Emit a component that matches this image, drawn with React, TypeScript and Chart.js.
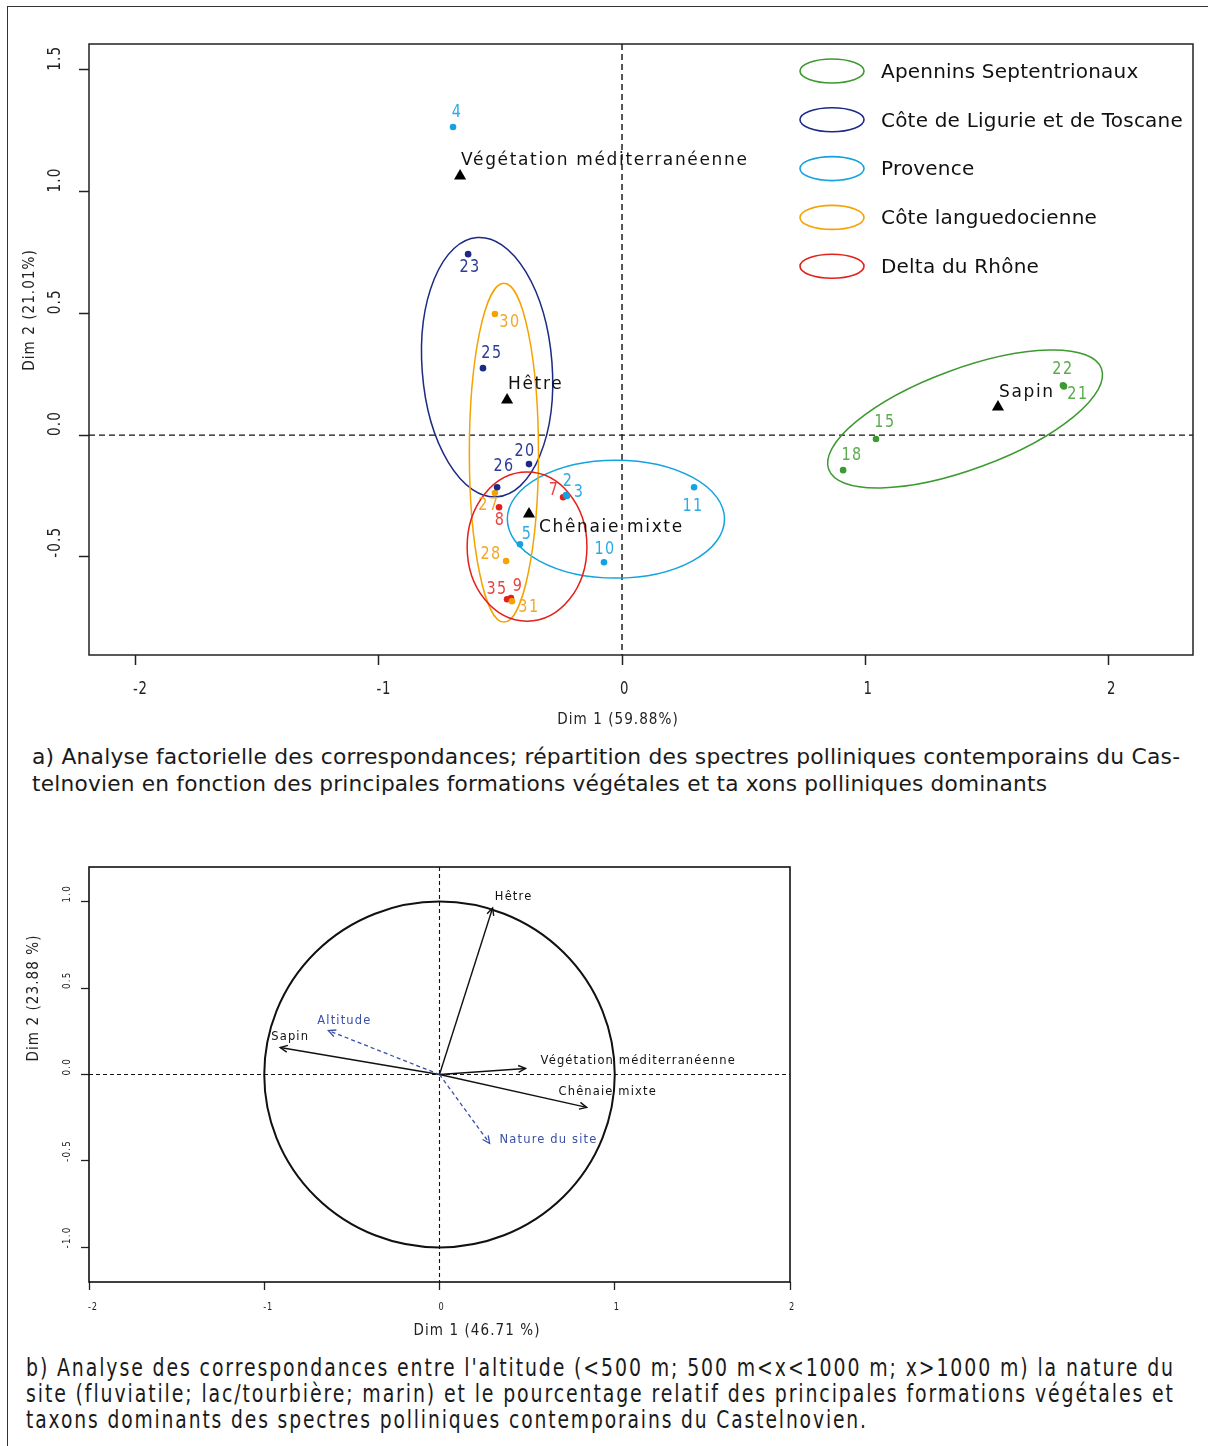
import React, { useEffect, useLayoutEffect, useRef } from 'react';
import { Chart, registerables } from 'chart.js';

Chart.register(...registerables);

// ================= Figure a : sites on Dim 1 / Dim 2 =================
const regionNames = [
  'Apennins Septentrionaux',
  'Côte de Ligurie et de Toscane',
  'Provence',
  'Côte languedocienne',
  'Delta du Rhône',
];

const apenninsSites = ['15', '18', '22', '21'];
const apenninsDim1 = [1.043, 0.908, 1.811, 1.815];
const apenninsDim2 = [-0.016, -0.144, 0.205, 0.2];

const ligurieSites = ['23', '25', '20', '26'];
const ligurieDim1 = [-0.632, -0.571, -0.382, -0.513];
const ligurieDim2 = [0.743, 0.275, -0.119, -0.214];

const provenceSites = ['4', '2', '3', '5', '10', '11'];
const provenceDim1 = [-0.694, -0.23, -0.226, -0.419, -0.074, 0.296];
const provenceDim2 = [1.265, -0.246, -0.25, -0.448, -0.522, -0.214];

const languedocSites = ['30', '27', '28', '31'];
const languedocDim1 = [-0.522, -0.522, -0.476, -0.452];
const languedocDim2 = [0.497, -0.238, -0.517, -0.682];

const rhoneSites = ['8', '7', '35', '9'];
const rhoneDim1 = [-0.505, -0.242, -0.472, -0.456];
const rhoneDim2 = [-0.296, -0.255, -0.674, -0.669];

const taxaNamesA = ['Végétation méditerranéenne', 'Hêtre', 'Chênaie mixte', 'Sapin'];
const taxaDim1A = [-0.665, -0.472, -0.382, 1.544];
const taxaDim2A = [1.064, 0.144, -0.324, 0.115];

// confidence ellipses: centre, semi-axes, rotation (degrees)
const ellipseCx = [1.409, -0.554, -0.025, -0.485, -0.39];
const ellipseCy = [0.066, 0.279, -0.345, -0.072, -0.458];
const ellipseRx = [0.597, 0.267, 0.446, 0.142, 0.246];
const ellipseRy = [0.206, 0.534, 0.242, 0.696, 0.306];
const ellipseAngle = [20.3, 4.4, 0, 0, 0];

const xTicksA = [-2, -1, 0, 1, 2];
const yTicksA = [-0.5, 0, 0.5, 1, 1.5];
const xTitleA = 'Dim 1 (59.88%)';
const yTitleA = 'Dim 2 (21.01%)';

// ================= Figure b : correlation circle =================
const varNames = ['Hêtre', 'Sapin', 'Végétation méditerranéenne', 'Chênaie mixte'];
const varDim1 = [0.303, -0.909, 0.491, 0.84];
const varDim2 = [0.963, 0.156, 0.035, -0.19];
const supNames = ['Altitude', 'Nature du site'];
const supDim1 = [-0.634, 0.286];
const supDim2 = [0.254, -0.398];

const xTicksB = [-2, -1, 0, 1, 2];
const yTicksB = [-1, -0.5, 0, 0.5, 1];
const xTitleB = 'Dim 1 (46.71 %)';
const yTitleB = 'Dim 2 (23.88 %)';

const captionA = [
  'a) Analyse factorielle des correspondances; répartition des spectres polliniques contemporains du Cas-',
  'telnovien en fonction des principales formations végétales et ta xons polliniques dominants',
];
const captionB = [
  "b) Analyse des correspondances entre l'altitude (<500 m; 500 m<x<1000 m; x>1000 m) la nature du",
  'site (fluviatile; lac/tourbière; marin) et le pourcentage relatif des principales formations végétales et',
  'taxons dominants des spectres polliniques contemporains du Castelnovien.',
];

// ---------------- styles (layout only) ----------------
const regionColors = ['#3c9a30', '#1c2a85', '#14a3e0', '#f5a300', '#e3211c'];
const regionLabelColors = ['#5aac4c', '#2d3b95', '#2eaae3', '#f4a726', '#e8443d'];
const SANS = '"DejaVu Sans", "Open Sans", sans-serif';
const BLUE = '#3a50a6';

// label offsets (pixels) relative to points
const siteLabelOffset: Record<string, [number, number]> = {
  '4': [4, -15], '23': [2, 13], '30': [15, 8], '25': [9, -15], '20': [-4, -13], '26': [7, -21],
  '27': [-6, 12], '8': [1, 13], '7': [-9, -7], '2': [2, -14], '3': [12, -4], '5': [7, -10],
  '28': [-15, -7], '10': [1, -13], '11': [-1, 19], '35': [-10, -10], '9': [7, -12], '31': [17, 6],
  '15': [9, -17], '18': [9, -15], '22': [0, -16], '21': [14, 8],
};
const taxaLabelOffsetA: [number, number][] = [[1, -15], [1, -15], [10, 14], [1, -15]];
const varLabelOffset: [number, number, CanvasTextAlign][] = [[21, -11, 'center'], [10, -11, 'center'], [15, -7, 'left'], [21, -15, 'center']];
const supLabelOffset: [number, number, CanvasTextAlign][] = [[16, -10, 'center'], [10, -3, 'left']];

type TextOpts = { font: string; color: string; align?: CanvasTextAlign; baseline?: CanvasTextBaseline; spacing?: number; rotate?: number; sx?: number };
function drawText(ctx: CanvasRenderingContext2D, text: string, x: number, y: number, o: TextOpts) {
  ctx.save();
  ctx.font = o.font;
  ctx.fillStyle = o.color;
  ctx.textAlign = o.align ?? 'left';
  ctx.textBaseline = o.baseline ?? 'middle';
  (ctx as any).letterSpacing = `${o.spacing ?? 0}px`;
  ctx.translate(x, y);
  if (o.rotate) ctx.rotate(o.rotate);
  if (o.sx) ctx.scale(o.sx, 1);
  ctx.fillText(text, 0, 0);
  ctx.restore();
}

const siteGroups = [
  { sites: apenninsSites, x: apenninsDim1, y: apenninsDim2 },
  { sites: ligurieSites, x: ligurieDim1, y: ligurieDim2 },
  { sites: provenceSites, x: provenceDim1, y: provenceDim2 },
  { sites: languedocSites, x: languedocDim1, y: languedocDim2 },
  { sites: rhoneSites, x: rhoneDim1, y: rhoneDim2 },
];

const plotAPlugin = {
  id: 'plotA',
  beforeDatasetsDraw(chart: any) {
    const { ctx, chartArea: { left, right, top, bottom }, scales: { x, y } } = chart;
    ctx.save();
    ctx.strokeStyle = '#111';
    ctx.lineWidth = 1.4;
    ctx.setLineDash([6, 4]);
    const x0 = x.getPixelForValue(0);
    const y0 = y.getPixelForValue(0);
    ctx.beginPath();
    ctx.moveTo(x0, top); ctx.lineTo(x0, bottom);
    ctx.moveTo(left, y0); ctx.lineTo(right, y0);
    ctx.stroke();
    ctx.setLineDash([]);
    ellipseCx.forEach((cx, i) => {
      const px = x.getPixelForValue(cx);
      const py = y.getPixelForValue(ellipseCy[i]);
      const rx = Math.abs(x.getPixelForValue(cx + ellipseRx[i]) - px);
      const ry = Math.abs(y.getPixelForValue(ellipseCy[i] + ellipseRy[i]) - py);
      ctx.beginPath();
      ctx.strokeStyle = regionColors[i];
      ctx.lineWidth = 1.5;
      ctx.ellipse(px, py, rx, ry, (-ellipseAngle[i] * Math.PI) / 180, 0, Math.PI * 2);
      ctx.stroke();
    });
    ctx.restore();
  },
  afterDraw(chart: any) {
    const { ctx, chartArea: { left, right, top, bottom }, scales: { x, y } } = chart;
    ctx.save();
    ctx.strokeStyle = '#222';
    ctx.lineWidth = 1.5;
    ctx.strokeRect(left, top, right - left, bottom - top);
    ctx.restore();
    xTicksA.forEach((v) => {
      drawText(ctx, String(v), x.getPixelForValue(v) - 2, 690, { font: `17px ${SANS}`, color: '#222', spacing: 1, sx: 0.78 });
    });
    yTicksA.forEach((v) => {
      drawText(ctx, v.toFixed(1), 56, y.getPixelForValue(v) + 1, { font: `17px ${SANS}`, color: '#222', spacing: 1.5, rotate: -Math.PI / 2, sx: 0.8 });
    });
    drawText(ctx, xTitleA, 618, 720, { font: `16px ${SANS}`, color: '#222', align: 'center', spacing: 1.2, sx: 0.85 });
    drawText(ctx, yTitleA, 30, 310, { font: `16px ${SANS}`, color: '#222', align: 'center', spacing: 1.2, rotate: -Math.PI / 2, sx: 0.85 });
    // legend
    regionNames.forEach((name, i) => {
      const cy = 71 + i * 48.8;
      ctx.save();
      ctx.strokeStyle = regionColors[i];
      ctx.lineWidth = 1.6;
      ctx.beginPath();
      ctx.ellipse(832, cy, 32, 12, 0, 0, Math.PI * 2);
      ctx.stroke();
      ctx.restore();
      drawText(ctx, name, 881, cy + 1.5, { font: `20px ${SANS}`, color: '#111', spacing: 0.2 });
    });
    // site labels
    siteGroups.forEach((g, gi) => {
      const meta = chart.getDatasetMeta(gi);
      g.sites.forEach((s, j) => {
        const el = meta.data[j];
        const off = siteLabelOffset[s] ?? [0, -14];
        drawText(ctx, s, el.x + off[0], el.y + off[1], { font: `18px ${SANS}`, color: regionLabelColors[gi], align: 'center', spacing: 1.8, sx: 0.8 });
      });
    });
    // taxa labels
    const tMeta = chart.getDatasetMeta(5);
    taxaNamesA.forEach((name, i) => {
      const el = tMeta.data[i];
      const off = taxaLabelOffsetA[i];
      drawText(ctx, name, el.x + off[0], el.y + off[1], { font: `17px ${SANS}`, color: '#111', spacing: 1.65 });
    });
  },
};

function arrowHead(ctx: CanvasRenderingContext2D, x0: number, y0: number, x1: number, y1: number, len: number) {
  const a = Math.atan2(y1 - y0, x1 - x0);
  const s = Math.PI / 7;
  ctx.beginPath();
  ctx.moveTo(x1 - len * Math.cos(a - s), y1 - len * Math.sin(a - s));
  ctx.lineTo(x1, y1);
  ctx.lineTo(x1 - len * Math.cos(a + s), y1 - len * Math.sin(a + s));
  ctx.stroke();
}

const OFFB = 830;
const plotBPlugin = {
  id: 'plotB',
  beforeDatasetsDraw(chart: any) {
    const { ctx, chartArea: { left, right, top, bottom }, scales: { x, y } } = chart;
    const x0 = x.getPixelForValue(0);
    const y0 = y.getPixelForValue(0);
    ctx.save();
    ctx.strokeStyle = '#111';
    ctx.lineWidth = 1.1;
    ctx.setLineDash([4, 3]);
    ctx.beginPath();
    ctx.moveTo(x0, top); ctx.lineTo(x0, bottom);
    ctx.moveTo(left, y0); ctx.lineTo(right, y0);
    ctx.stroke();
    ctx.setLineDash([]);
    ctx.lineWidth = 2;
    ctx.beginPath();
    ctx.ellipse(x0, y0, Math.abs(x.getPixelForValue(1) - x0), Math.abs(y.getPixelForValue(1) - y0), 0, 0, Math.PI * 2);
    ctx.stroke();
    ctx.restore();
  },
  afterDraw(chart: any) {
    const { ctx, chartArea: { left, right, top, bottom }, scales: { x, y } } = chart;
    const x0 = x.getPixelForValue(0);
    const y0 = y.getPixelForValue(0);
    const vMeta = chart.getDatasetMeta(0);
    const sMeta = chart.getDatasetMeta(1);
    ctx.save();
    ctx.strokeStyle = '#111';
    ctx.lineWidth = 1.4;
    varNames.forEach((_, i) => {
      const el = vMeta.data[i];
      ctx.beginPath(); ctx.moveTo(x0, y0); ctx.lineTo(el.x, el.y); ctx.stroke();
      arrowHead(ctx, x0, y0, el.x, el.y, 8);
    });
    ctx.strokeStyle = BLUE;
    ctx.lineWidth = 1.3;
    supNames.forEach((_, i) => {
      const el = sMeta.data[i];
      ctx.setLineDash([4, 3]);
      ctx.beginPath(); ctx.moveTo(x0, y0); ctx.lineTo(el.x, el.y); ctx.stroke();
      ctx.setLineDash([]);
      arrowHead(ctx, x0, y0, el.x, el.y, 8);
    });
    ctx.strokeStyle = '#111';
    ctx.lineWidth = 1.6;
    ctx.strokeRect(left, top, right - left, bottom - top);
    ctx.restore();
    varNames.forEach((name, i) => {
      const el = vMeta.data[i];
      const o = varLabelOffset[i];
      drawText(ctx, name, el.x + o[0], el.y + o[1], { font: `11.5px ${SANS}`, color: '#111', align: o[2], spacing: 1.15 });
    });
    supNames.forEach((name, i) => {
      const el = sMeta.data[i];
      const o = supLabelOffset[i];
      drawText(ctx, name, el.x + o[0], el.y + o[1], { font: `11.5px ${SANS}`, color: BLUE, align: o[2], spacing: 1.15 });
    });
    xTicksB.forEach((v) => {
      drawText(ctx, String(v), x.getPixelForValue(v) - 1, 1307 - OFFB, { font: `11px ${SANS}`, color: '#222', spacing: 1, sx: 0.75 });
    });
    yTicksB.forEach((v) => {
      drawText(ctx, v.toFixed(1), 67, y.getPixelForValue(v) + 1, { font: `11px ${SANS}`, color: '#222', spacing: 1.5, rotate: -Math.PI / 2, sx: 0.8 });
    });
    drawText(ctx, xTitleB, 477, 1331 - OFFB, { font: `15px ${SANS}`, color: '#222', align: 'center', spacing: 1.2, sx: 0.9 });
    drawText(ctx, yTitleB, 34, 998 - OFFB, { font: `15px ${SANS}`, color: '#222', align: 'center', spacing: 1.2, rotate: -Math.PI / 2, sx: 0.9 });
  },
};

function fixedAxis(size: number, horizontal: boolean) {
  return (scale: any) => {
    if (horizontal) scale.height = size;
    else scale.width = size;
  };
}

function ChartA() {
  const ref = useRef<HTMLCanvasElement>(null);
  useEffect(() => {
    if (!ref.current) return;
    const datasets: any[] = siteGroups.map((g, i) => ({
      label: regionNames[i],
      data: g.x.map((v, j) => ({ x: v, y: g.y[j] })),
      backgroundColor: regionColors[i],
      borderWidth: 0,
      pointRadius: 3.3,
    }));
    datasets.push({
      label: 'taxa',
      data: taxaDim1A.map((v, j) => ({ x: v, y: taxaDim2A[j] })),
      backgroundColor: '#000',
      borderWidth: 0,
      pointStyle: 'triangle',
      pointRadius: 7,
    });
    const chart = new Chart(ref.current, {
      type: 'scatter',
      data: { datasets },
      options: {
        responsive: false,
        animation: false,
        events: [],
        layout: { padding: { top: 44, left: 0, right: 15, bottom: 0 } },
        plugins: { legend: { display: false }, tooltip: { enabled: false } },
        scales: {
          x: {
            type: 'linear', min: -2.189, max: 2.345,
            afterBuildTicks: (s: any) => { s.ticks = xTicksA.map((v) => ({ value: v })); },
            afterFit: fixedAxis(85, true),
            ticks: { display: false },
            border: { display: false },
            grid: { drawOnChartArea: false, drawTicks: true, tickLength: 10, tickColor: '#222', tickWidth: 1.5 },
          },
          y: {
            type: 'linear', min: -0.903, max: 1.606,
            afterBuildTicks: (s: any) => { s.ticks = yTicksA.map((v) => ({ value: v })); },
            afterFit: fixedAxis(89, false),
            ticks: { display: false },
            border: { display: false },
            grid: { drawOnChartArea: false, drawTicks: true, tickLength: 10, tickColor: '#222', tickWidth: 1.5 },
          },
        },
      },
      plugins: [plotAPlugin],
    });
    return () => chart.destroy();
  }, []);
  return <canvas ref={ref} width={1208} height={740} style={{ position: 'absolute', left: 0, top: 0, width: 1208, height: 740 }} />;
}

function ChartB() {
  const ref = useRef<HTMLCanvasElement>(null);
  useEffect(() => {
    if (!ref.current) return;
    const chart = new Chart(ref.current, {
      type: 'scatter',
      data: {
        datasets: [
          { label: 'variables', data: varDim1.map((v, j) => ({ x: v, y: varDim2[j] })), pointRadius: 0 },
          { label: 'supplementaires', data: supDim1.map((v, j) => ({ x: v, y: supDim2[j] })), pointRadius: 0 },
        ],
      },
      options: {
        responsive: false,
        animation: false,
        events: [],
        layout: { padding: { top: 37, left: 0, right: 418, bottom: 0 } },
        plugins: { legend: { display: false }, tooltip: { enabled: false } },
        scales: {
          x: {
            type: 'linear', min: -2, max: 2,
            afterBuildTicks: (s: any) => { s.ticks = xTicksB.map((v) => ({ value: v })); },
            afterFit: fixedAxis(68, true),
            ticks: { display: false },
            border: { display: false },
            grid: { drawOnChartArea: false, drawTicks: true, tickLength: 8, tickColor: '#222', tickWidth: 1.3 },
          },
          y: {
            type: 'linear', min: -1.2, max: 1.2,
            afterBuildTicks: (s: any) => { s.ticks = yTicksB.map((v) => ({ value: v })); },
            afterFit: fixedAxis(89, false),
            ticks: { display: false },
            border: { display: false },
            grid: { drawOnChartArea: false, drawTicks: true, tickLength: 8, tickColor: '#222', tickWidth: 1.3 },
          },
        },
      },
      plugins: [plotBPlugin],
    });
    return () => chart.destroy();
  }, []);
  return <canvas ref={ref} width={1208} height={520} style={{ position: 'absolute', left: 0, top: OFFB, width: 1208, height: 520 }} />;
}

// caption line stretched/condensed horizontally to the measured width of the reference line
function CaptionLine(props: { text: string; left: number; top: number; target: number; font: string; spacing: number; lineHeight: number }) {
  const ref = useRef<HTMLSpanElement>(null);
  useLayoutEffect(() => {
    const el = ref.current;
    if (!el) return;
    el.style.transform = 'none';
    const w = el.getBoundingClientRect().width - props.spacing;
    if (w > 0) el.style.transform = `scaleX(${props.target / w})`;
  }, [props.text, props.target]);
  return (
    <span
      ref={ref}
      style={{
        position: 'absolute', left: props.left, top: props.top, whiteSpace: 'nowrap', font: props.font,
        letterSpacing: `${props.spacing}px`, lineHeight: `${props.lineHeight}px`, color: '#1a1a1a',
        transformOrigin: '0 0', display: 'inline-block',
      }}
    >
      {props.text}
    </span>
  );
}

const captionATargets = [1148, 1015];
const captionBTargets = [1147, 1147, 840];

export default function App() {
  return (
    <div style={{ position: 'absolute', left: 0, top: 0, width: 1208, height: 1446, background: '#fff', overflow: 'hidden', fontFamily: SANS }}>
      <div style={{ position: 'absolute', left: 7, top: 6, width: 1210, height: 1450, borderTop: '1px solid #333', borderLeft: '1px solid #333' }} />
      <ChartA />
      <ChartB />
      {captionA.map((t, i) => (
        <CaptionLine key={'a' + i} text={t} left={32} top={744 + i * 27} target={captionATargets[i]} font={`21px ${SANS}`} spacing={0.2} lineHeight={27} />
      ))}
      {captionB.map((t, i) => (
        <CaptionLine key={'b' + i} text={t} left={26} top={1355 + i * 26} target={captionBTargets[i]} font={`24px ${SANS}`} spacing={2.4} lineHeight={26} />
      ))}
    </div>
  );
}
